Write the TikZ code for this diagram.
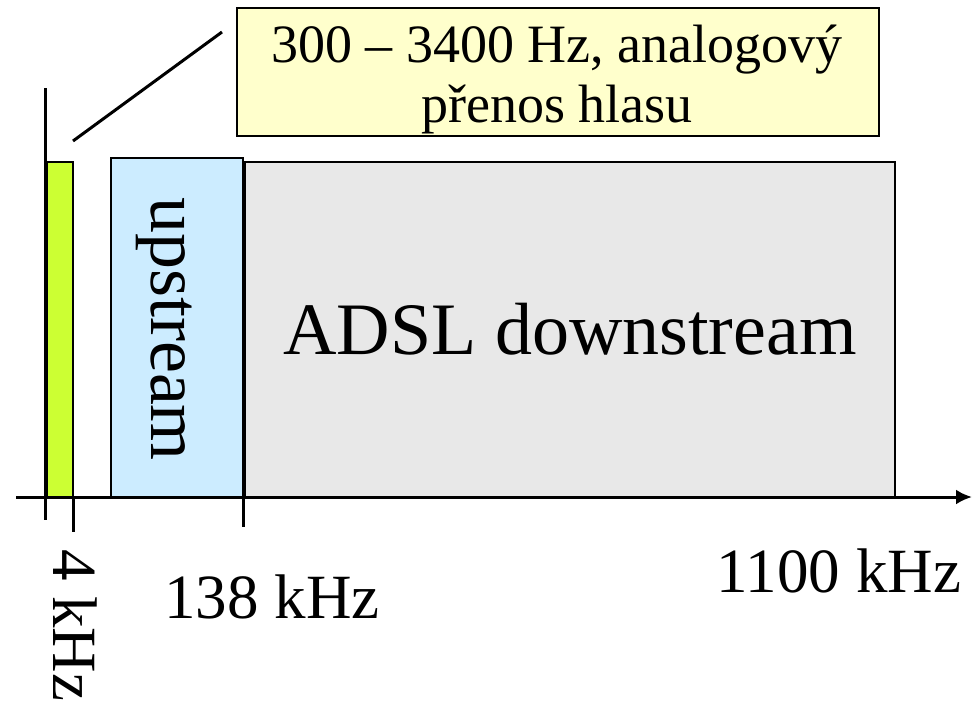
\documentclass[tikz,border=0pt]{standalone}
\usepackage{fontspec}
\setmainfont{Liberation Serif}
\usetikzlibrary{positioning,arrows.meta}
\definecolor{voicegreen}{HTML}{CCFF33}
\definecolor{upblue}{HTML}{CCECFF}
\definecolor{downgray}{HTML}{E8E8E8}
\definecolor{noteyellow}{HTML}{FFFFCC}

\begin{document}
\begin{tikzpicture}[x=1pt,y=-1pt,
		band/.style={draw,line width=2pt,inner sep=0pt,outer sep=0pt,anchor=north west},
		lbl/.style={inner sep=0pt,font=\fontsize{63}{70}\selectfont}]
		\useasboundingbox (0,0) rectangle (974,702);
		% pasma
		\node[band,fill=voicegreen,minimum width=26pt,minimum height=335pt] (voice) at (47,162) {};
		\node[band,fill=upblue,minimum width=132pt,minimum height=339pt] (up) at (111,158) {};
		\node[band,fill=downgray,minimum width=650pt,minimum height=335pt] (down) at (245,162) {};
		\node[band,fill=noteyellow,minimum width=642pt,minimum height=128pt] (note) at (237,8) {};
		\node[lbl,font=\fontsize{74}{80}\selectfont] (downtxt) at (down) {ADSL downstream};
		\node[lbl,font=\fontsize{72}{80}\selectfont,rotate=-90] (uptxt) at (164,329) {upstream};
		\node[lbl,font=\fontsize{54}{60}\selectfont,anchor=base] (note1) at (557,62) {300 – 3400 Hz, analogový};
		\node[lbl,font=\fontsize{54}{60}\selectfont,anchor=base] (note2) at (557,122) {přenos hlasu};
		% osy
		\coordinate (ytop) at (45,88);
		\coordinate (ybot) at (45,520);
		\coordinate (xl) at (16,497);
		\coordinate (xr) at (972,497);
		\draw[line width=3pt] (ytop) -- (ybot);
		\draw[line width=3pt,-{Latex[length=16pt,width=15pt]}] (xl) -- (xr);
		\draw[line width=3pt] (voice.south east) -- ++(0,35);
		\draw[line width=3pt] ([yshift=5pt]up.south east) -- ++(0,35);
		\coordinate (vtip) at (73,141);
		\coordinate (ntip) at (222,32);
		\draw[line width=3pt] (vtip) -- (ntip);
		% popisky
		\node[lbl,rotate=-90,anchor=west] (f4) at (75,549) {4 kHz};
		\node[lbl,anchor=base] (f138) at (272,618) {138 kHz};
		\node[lbl,anchor=base] (f1100) at (839,592) {1100 kHz};
\end{tikzpicture}
\end{document}
